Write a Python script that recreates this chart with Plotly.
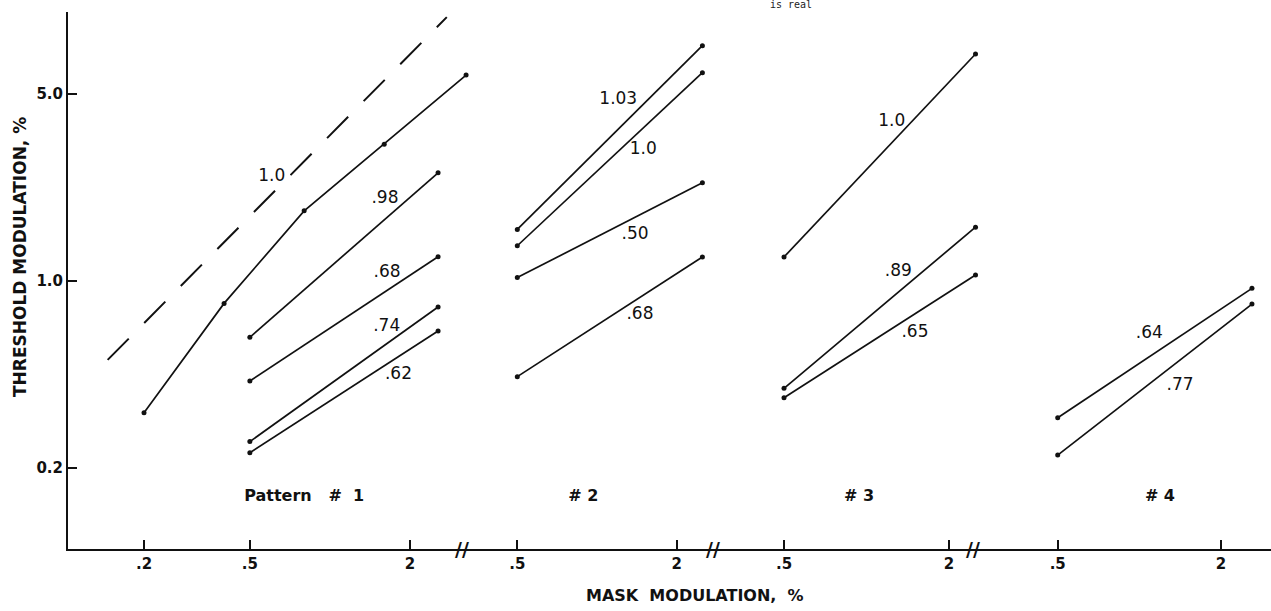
import numpy as np
import plotly.graph_objects as go

# ---- data (mask modulation %, threshold modulation %) ----
# Pattern 1
p1_steep_x = [0.2, 0.4, 0.8, 1.6, 3.25]
p1_steep_y = [0.322, 0.825, 1.83, 3.25, 5.89]
p1_x = [0.5, 2.55]
p1_98_y = [0.616, 2.54]
p1_68_y = [0.423, 1.233]
p1_74_y = [0.251, 0.80]
p1_62_y = [0.228, 0.650]
# unit-slope reference line (dashed)
ref_x = [0.146, 2.75]
ref_y = [0.507, 9.7]

# Pattern 2
p2_x = [0.5, 2.5]
p2_103_y = [1.56, 7.59]
p2_100_y = [1.355, 6.01]
p2_50_y = [1.03, 2.33]
p2_68_y = [0.439, 1.23]

# Pattern 3
p3_x = [0.5, 2.5]
p3_100_y = [1.23, 7.06]
p3_89_y = [0.397, 1.59]
p3_65_y = [0.366, 1.053]

# Pattern 4
p4_x = [0.5, 2.6]
p4_64_y = [0.308, 0.939]
p4_77_y = [0.2235, 0.820]

# curve labels: (text, x, y) per panel
p1_labels = [("1.0", 0.604, 2.455), (".98", 1.61, 2.03), (".68", 1.64, 1.076),
             (".74", 1.635, 0.675), (".62", 1.81, 0.448)]
p2_labels = [("1.03", 1.203, 4.75), ("1.0", 1.496, 3.11), (".50", 1.392, 1.486),
             (".68", 1.453, 0.746)]
p3_labels = [("1.0", 1.237, 3.94), (".89", 1.306, 1.083), (".65", 1.503, 0.641)]
p4_labels = [(".64", 1.088, 0.637), (".77", 1.412, 0.405)]

# pattern names: (text, x, y) per panel
pattern_names = [
    ("Pattern&nbsp;&nbsp;&nbsp;#&nbsp;&nbsp;1", 0.80, 0.156),
    ("#&nbsp;2", 0.887, 0.156),
    ("#&nbsp;3", 0.939, 0.156),
    ("#&nbsp;4", 1.191, 0.156),
]

x_tick_vals_1 = [0.2, 0.5, 2]
x_tick_text_1 = [".2", ".5", "2"]
x_tick_vals = [0.5, 2]
x_tick_text = [".5", "2"]
y_tick_vals = [0.2, 1.0, 5.0]
y_tick_text = ["0.2", "1.0", "5.0"]

# ---- geometry ----
W, H = 1271, 611
ML, MR, MT, MB = 68, 0, 12, 62
PW = W - ML - MR
PH = H - MT - MB


def frac(px):
    return (px - ML) / PW


def log_range(left_px, right_px, anchor_val, anchor_px, px_per_dec):
    a = np.log10(anchor_val)
    return [a - (anchor_px - left_px) / px_per_dec, a + (right_px - anchor_px) / px_per_dec]


panels = [
    # left px, right px, anchor value, anchor px, px per decade
    (68, 476, 0.2, 144, 266),
    (461.7, 713.3, 0.5, 517.3, 264.8),
    (713.3, 985, 0.5, 784, 274),
    (973.3, 1271, 0.5, 1057.7, 271.3),
]
axis_ids = ["x", "x2", "x3", "x4"]

FONT = "DejaVu Sans"
INK = "#111111"

fig = go.Figure()


def add_line(xs, ys, axis, dots=True, dash=None, width=1.7):
    fig.add_trace(go.Scatter(
        x=xs, y=ys, xaxis=axis, yaxis="y",
        mode="lines+markers" if dots else "lines",
        line=dict(color=INK, width=width, dash=dash),
        marker=dict(color=INK, size=5),
        showlegend=False, hoverinfo="skip", cliponaxis=False if dots else True,
    ))


def add_labels(labels, axis, bold=False, size=17):
    fig.add_trace(go.Scatter(
        x=[l[1] for l in labels], y=[l[2] for l in labels], text=[l[0] for l in labels],
        xaxis=axis, yaxis="y", mode="text",
        textfont=dict(family=FONT, size=size, color=INK, weight="bold" if bold else "normal"),
        showlegend=False, hoverinfo="skip", cliponaxis=False,
    ))


# Pattern 1
add_line(ref_x, ref_y, "x", dots=False, dash="30px,22px", width=2)
add_line(p1_steep_x, p1_steep_y, "x")
for ys in (p1_98_y, p1_68_y, p1_74_y, p1_62_y):
    add_line(p1_x, ys, "x")
add_labels(p1_labels, "x")

# Pattern 2
for ys in (p2_103_y, p2_100_y, p2_50_y, p2_68_y):
    add_line(p2_x, ys, "x2")
add_labels(p2_labels, "x2")

# Pattern 3
for ys in (p3_100_y, p3_89_y, p3_65_y):
    add_line(p3_x, ys, "x3")
add_labels(p3_labels, "x3")

# Pattern 4
for ys in (p4_64_y, p4_77_y):
    add_line(p4_x, ys, "x4")
add_labels(p4_labels, "x4")

for name, axis in zip(pattern_names, axis_ids):
    add_labels([name], axis, bold=True, size=16)

TICKFONT = dict(family=FONT, size=15, color=INK, weight="bold")

axis_common = dict(
    type="log", showgrid=False, zeroline=False, showline=True,
    linecolor=INK, linewidth=2, ticks="inside", ticklen=9, tickwidth=1.5,
    tickcolor=INK, tickfont=TICKFONT, anchor="y", fixedrange=True,
)

layout_axes = {}
for i, (lp, rp, av, ap, s) in enumerate(panels):
    name = "xaxis" if i == 0 else f"xaxis{i + 1}"
    tv = x_tick_vals_1 if i == 0 else x_tick_vals
    tt = x_tick_text_1 if i == 0 else x_tick_text
    layout_axes[name] = dict(
        axis_common,
        domain=[max(0, frac(lp)), min(1, frac(rp))],
        range=log_range(lp, rp, av, ap, s),
        tickvals=tv, ticktext=tt,
    )

fig.update_layout(
    width=W, height=H,
    margin=dict(l=ML, r=MR, t=MT, b=MB),
    paper_bgcolor="white", plot_bgcolor="rgba(0,0,0,0)",
    hovermode=False,
    yaxis=dict(
        type="log", range=[-1.002, 1.006], domain=[0, 1], anchor="x",
        showgrid=False, zeroline=False, showline=True, linecolor=INK, linewidth=2,
        ticks="inside", ticklen=9, tickwidth=1.5, tickcolor=INK,
        tickvals=y_tick_vals, ticktext=y_tick_text,
        tickfont=TICKFONT, fixedrange=True,
    ),
    **layout_axes,
)

annotations = [
    dict(text="<b>MASK&nbsp; MODULATION,&nbsp; %</b>", x=frac(695), y=(549 - 595) / PH,
         xref="paper", yref="paper", showarrow=False, xanchor="center", yanchor="middle",
         font=dict(family=FONT, size=16, color=INK)),
    dict(text="<b>THRESHOLD MODULATION, %</b>", x=frac(20), y=(549 - 257) / PH,
         xref="paper", yref="paper", showarrow=False, textangle=-90,
         xanchor="center", yanchor="middle",
         font=dict(family=FONT, size=17, color=INK)),
    dict(text="is real", x=frac(791), y=1 + (MT - 5) / PH, xref="paper", yref="paper",
         showarrow=False, xanchor="center", yanchor="middle",
         font=dict(family="DejaVu Sans Mono", size=10, color="#222222")),
]
# axis break marks at the panel joins
for lp, *_ in panels[1:]:
    annotations.append(dict(text="<b>//</b>", x=frac(lp), y=0, xref="paper", yref="paper",
                            showarrow=False, xanchor="center", yanchor="middle",
                            font=dict(family=FONT, size=19, color=INK)))
fig.update_layout(annotations=annotations)

fig.write_html("out.html")
